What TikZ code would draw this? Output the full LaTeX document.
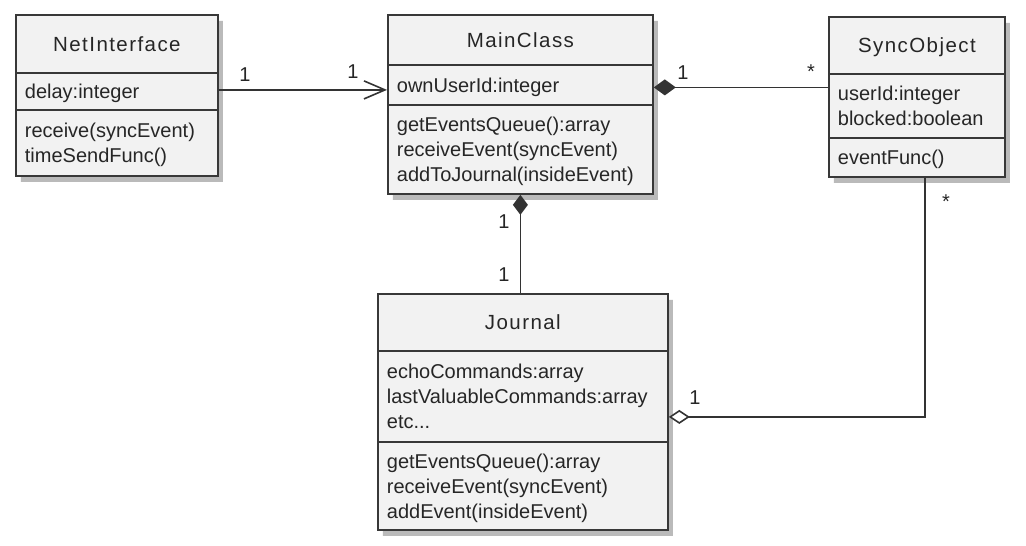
\documentclass[tikz,border=0pt]{standalone}
\usepackage{fontspec}
\setmainfont{Liberation Sans}
\newfontfamily\titlefont[LetterSpace=7]{Liberation Sans}
\usetikzlibrary{shapes.multipart,shadows,arrows.meta}

\newcommand{\umlstrut}{\vrule width 0pt height 20pt depth 5pt}
% one compartment of a class box: width, height, lines
\newcommand{\umlsec}[3]{\parbox[c][\dimexpr#2pt-1.8pt\relax][c]{#1pt}{\baselineskip=25pt\lineskiplimit=-50pt\raggedright\umlstrut#3\umlstrut}}
\newcommand{\umltitle}[3]{\parbox[c][\dimexpr#2pt-1.8pt\relax][c]{#1pt}{\centering\titlefont\fontsize{20.5}{25}\selectfont\umlstrut#3\umlstrut}}

\begin{document}
\begin{tikzpicture}[x=1pt,y=-1pt,
                class box/.style={rectangle split,rectangle split parts=3,anchor=north west,
                  draw=black!78,line width=1.8pt,fill=black!5,text=black!85,
                  inner xsep=9pt,inner ysep=0pt,font=\fontsize{20}{25}\selectfont,
                  drop shadow={shadow xshift=5pt,shadow yshift=-6pt,fill=black!60,opacity=.45}},
                mult/.style={font=\fontsize{20}{25}\selectfont,text=black!85,inner sep=0pt},
                conn/.style={draw=black!80,line width=1.6pt},
                assoc/.style={conn,-{Straight Barb[length=21pt,width=18pt]}},
                comp/.style={conn,{Diamond[length=22pt,width=16pt]}-},
                aggr/.style={conn,-{Diamond[open,length=21pt,width=14pt,fill=white]}}]
                \fill[white] (0,0) rectangle (1026,546);
                \useasboundingbox (0,0) rectangle (1026,546);

                \node[class box] (net) at (15,14)
                  {\umltitle{184}{58}{NetInterface}
                   \nodepart{two}\umlsec{184}{37}{delay:integer}
                   \nodepart{three}\umlsec{184}{66}{receive(syncEvent)\\timeSendFunc()}};
                \node[class box] (main) at (387,14)
                  {\umltitle{247}{50}{MainClass}
                   \nodepart{two}\umlsec{247}{40}{ownUserId:integer}
                   \nodepart{three}\umlsec{247}{89}{getEventsQueue():array\\receiveEvent(syncEvent)\\addToJournal(insideEvent)}};
                \node[class box] (sync) at (828,16)
                  {\umltitle{158}{57}{SyncObject}
                   \nodepart{two}\umlsec{158}{64}{userId:integer\\blocked:boolean}
                   \nodepart{three}\umlsec{158}{39}{eventFunc()}};
                \node[class box] (jour) at (377,293)
                  {\umltitle{272}{57}{Journal}
                   \nodepart{two}\umlsec{272}{91}{echoCommands:array\\lastValuableCommands:array\\etc...}
                   \nodepart{three}\umlsec{272}{88}{getEventsQueue():array\\receiveEvent(syncEvent)\\addEvent(insideEvent)}};

                \draw[assoc] ([yshift=5.5pt]net.east) -- ([yshift=5.5pt]net.east -| main.west);
                \draw[comp] ([yshift=17pt]main.east) -- ([yshift=17pt]main.east -| sync.west);
                \draw[conn,{Diamond[length=20pt,width=15pt]}-] (main.south) -- (main.south |- jour.north);
                \draw[aggr] ([xshift=8pt]sync.south) |- ([yshift=-5pt]jour.east);

                % multiplicities
                \node[mult] (m1) at (245,75) {1};
                \node[mult] (m2) at (353,72) {1};
                \node[mult] (m3) at (683,73) {1};
                \node[mult] (m4) at (811,72) {*};
                \node[mult] (m5) at (504,222) {1};
                \node[mult] (m6) at (504,275) {1};
                \node[mult] (m7) at (946,202) {*};
                \node[mult] (m8) at (695,398) {1};
\end{tikzpicture}
\end{document}
